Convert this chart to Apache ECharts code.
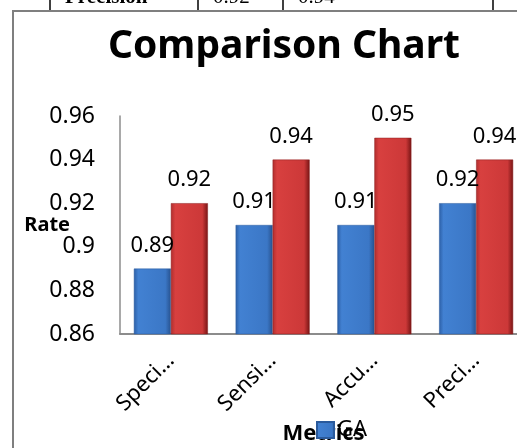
<!DOCTYPE html>
<html>
<head>
<meta charset="utf-8">
<script src="https://cdn.jsdelivr.net/npm/echarts@6/dist/echarts.min.js"></script>
<style>
  html, body { margin: 0; padding: 0; background: #fff; }
  #wrap { position: relative; width: 517px; height: 448px; overflow: hidden; }
  #chart { width: 517px; height: 448px; }
  #frame {
    position: absolute; left: 12px; top: 10px; width: 600px; height: 500px;
    border-left: 2px solid #7f7f7f; border-top: 2px solid #7f7f7f;
    pointer-events: none;
  }
</style>
</head>
<body>
<div id="wrap">
  <div id="chart"></div>
  <div id="frame"></div>
</div>
<script>
// Metrics compared for the two methods
var categories = ['Specificity', 'Sensitivity', 'Accuracy', 'Precision'];
var categoryLabels = ['Speci…', 'Sensi…', 'Accu…', 'Preci…'];
var gaValues = [0.89, 0.91, 0.91, 0.92];
var proposedValues = [0.92, 0.94, 0.95, 0.94];
var yTicks = [0.86, 0.88, 0.9, 0.92, 0.94, 0.96];

var FONT = '"Noto Sans", "DejaVu Sans", sans-serif';

var chart = echarts.init(document.getElementById('chart'), null, { renderer: 'canvas' });

function barGradient(stops) {
  return new echarts.graphic.LinearGradient(0, 0, 1, 0, stops);
}

var blueFill = barGradient([
  { offset: 0, color: '#2c5fa6' },
  { offset: 0.12, color: '#4281d2' },
  { offset: 0.85, color: '#3b77c6' },
  { offset: 1, color: '#27528f' }
]);
var redFill = barGradient([
  { offset: 0, color: '#b02e2e' },
  { offset: 0.12, color: '#d8403f' },
  { offset: 0.85, color: '#cc3838' },
  { offset: 1, color: '#761414' }
]);

var valueLabel = {
  show: true,
  position: 'top',
  distance: 12,
  color: '#000',
  fontFamily: FONT,
  fontSize: 22,
  formatter: function (p) { return String(p.value); }
};

chart.setOption({
  backgroundColor: '#fff',
  animation: false,
  title: {
    text: 'Comparison Chart',
    left: 279,
    textAlign: 'center',
    top: 22,
    textStyle: { fontFamily: FONT, fontWeight: 'bold', fontSize: 39, color: '#000' }
  },
  legend: {
    data: ['GA'],
    left: 311,
    top: 414,
    itemWidth: 17,
    itemHeight: 16,
    itemGap: 4,
    icon: 'rect',
    textStyle: { fontFamily: FONT, fontSize: 22, color: '#000', padding: [0, 0, 0, -2] }
  },
  grid: { left: 120, top: 116, bottom: 114, width: 407, containLabel: false, outerBoundsMode: 'none' },
  xAxis: {
    type: 'category',
    data: categories,
    name: 'Metrics',
    nameLocation: 'middle',
    nameGap: 89,
    nameMoveOverlap: false,
    nameTextStyle: { fontFamily: FONT, fontWeight: 'bold', fontSize: 22, color: '#000' },
    axisLine: { show: true, lineStyle: { color: '#8c8c8c', width: 2 } },
    axisTick: { show: false },
    axisLabel: {
      rotate: 45,
      interval: 0,
      margin: 23,
      padding: [51, 0, 0, 0],
      fontFamily: FONT,
      fontSize: 22,
      color: '#000',
      formatter: function (v, i) { return categoryLabels[i]; }
    }
  },
  yAxis: {
    type: 'value',
    min: yTicks[0],
    max: yTicks[yTicks.length - 1],
    interval: 0.02,
    name: 'Rate',
    nameLocation: 'middle',
    nameRotate: 0,
    nameGap: 50,
    nameMoveOverlap: false,
    nameTextStyle: { fontFamily: FONT, fontWeight: 'bold', fontSize: 20, color: '#000', padding: [4, 0, 0, 0] },
    axisLine: { show: true, lineStyle: { color: '#8c8c8c', width: 1.5 } },
    axisTick: { show: false },
    splitLine: { show: false },
    axisLabel: {
      margin: 25,
      fontFamily: FONT,
      fontSize: 23,
      color: '#000',
      formatter: function (v) { return String(Math.round(v * 100) / 100); }
    }
  },
  series: [
    {
      name: 'GA',
      type: 'bar',
      data: gaValues,
      barWidth: 37,
      barGap: '0%',
      itemStyle: { color: blueFill, borderColor: '#2a5a9c', borderWidth: 0.5 },
      label: valueLabel
    },
    {
      name: 'Proposed',
      type: 'bar',
      data: proposedValues,
      barWidth: 37,
      barGap: '0%',
      itemStyle: { color: redFill, borderColor: '#8a1e1e', borderWidth: 0.5 },
      label: valueLabel
    }
  ],
  graphic: {
    elements: [
      // last row of the table above the chart
      { type: 'line', z: 100, shape: { x1: 50, y1: 0, x2: 50, y2: 10 }, style: { stroke: '#000', lineWidth: 1.5 } },
      { type: 'line', z: 100, shape: { x1: 198, y1: 0, x2: 198, y2: 10 }, style: { stroke: '#000', lineWidth: 1.5 } },
      { type: 'line', z: 100, shape: { x1: 283, y1: 0, x2: 283, y2: 10 }, style: { stroke: '#000', lineWidth: 1.5 } },
      { type: 'line', z: 100, shape: { x1: 493, y1: 0, x2: 493, y2: 10 }, style: { stroke: '#000', lineWidth: 1.5 } },
      { type: 'text', x: 65, y: 8, z: 100, style: { text: 'Precision', fontFamily: '"Liberation Serif", serif', fontWeight: 'bold', fontSize: 21, fill: '#000', verticalAlign: 'bottom' } },
      { type: 'text', x: 213, y: 8, z: 100, style: { text: '0.92', fontFamily: '"Liberation Serif", serif', fontSize: 21, fill: '#000', verticalAlign: 'bottom' } },
      { type: 'text', x: 298, y: 8, z: 100, style: { text: '0.94', fontFamily: '"Liberation Serif", serif', fontSize: 21, fill: '#000', verticalAlign: 'bottom' } }
    ]
  }
});
</script>
</body>
</html>
